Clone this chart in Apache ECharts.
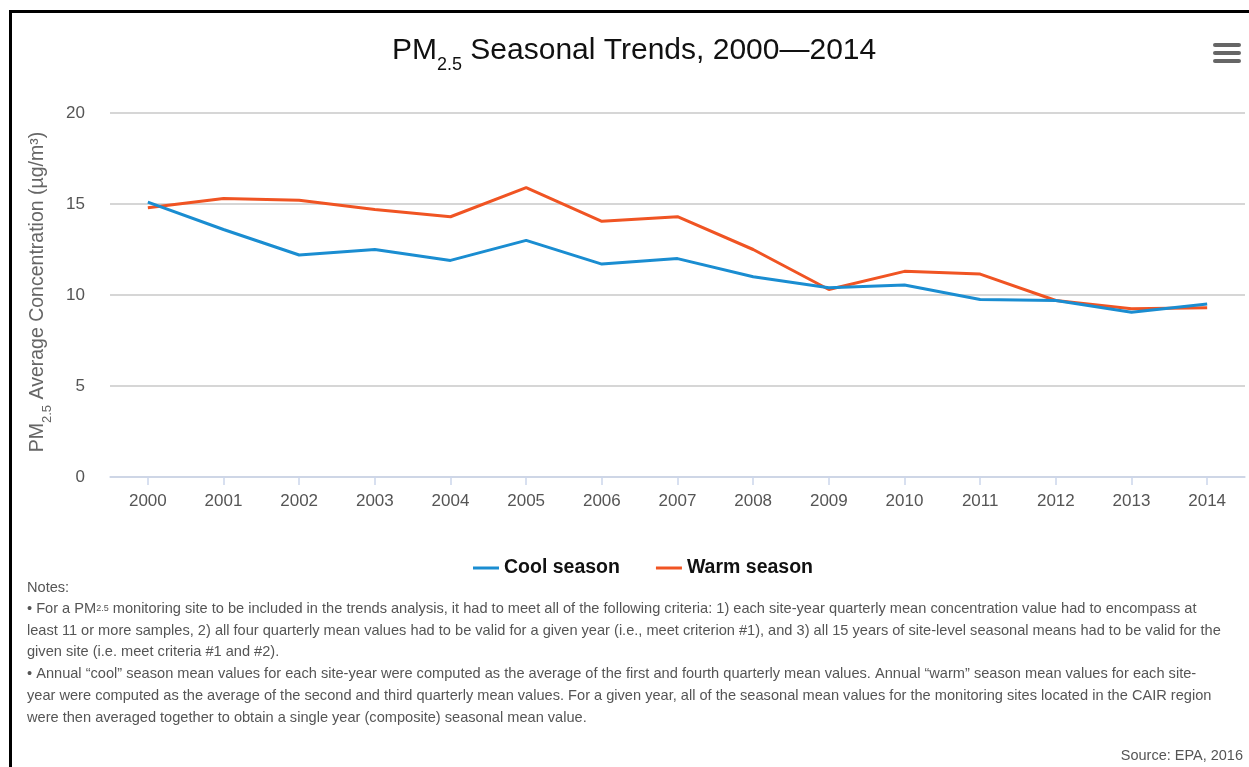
<!DOCTYPE html>
<html>
<head>
<meta charset="utf-8">
<script src="https://cdn.jsdelivr.net/npm/echarts@6/dist/echarts.min.js"></script>
<style>
html,body{margin:0;padding:0;background:#fff;}
#c{width:1249px;height:767px;}
</style>
</head>
<body>
<div id="c"></div>
<script>
var years = ['2000','2001','2002','2003','2004','2005','2006','2007','2008','2009','2010','2011','2012','2013','2014'];
var coolSeason = [15.1, 13.6, 12.2, 12.5, 11.9, 13.0, 11.7, 12.0, 11.0, 10.4, 10.55, 9.75, 9.7, 9.05, 9.5];
var warmSeason = [14.8, 15.3, 15.2, 14.7, 14.3, 15.9, 14.05, 14.3, 12.5, 10.3, 11.3, 11.15, 9.7, 9.25, 9.3];
var yTicks = [0, 5, 10, 15, 20];
var seriesNames = ['Cool season', 'Warm season'];
var noteLines = [
  'Notes:',
  '{t|• For a PM}{s|2.5}{t| monitoring site to be included in the trends analysis, it had to meet all of the following criteria: 1) each site-year quarterly mean concentration value had to encompass at}',
  'least 11 or more samples, 2) all four quarterly mean values had to be valid for a given year (i.e., meet criterion #1), and 3) all 15 years of site-level seasonal means had to be valid for the',
  'given site (i.e. meet criteria #1 and #2).',
  '• Annual \u201ccool\u201d season mean values for each site-year were computed as the average of the first and fourth quarterly mean values. Annual \u201cwarm\u201d season mean values for each site-',
  'year were computed as the average of the second and third quarterly mean values. For a given year, all of the seasonal mean values for the monitoring sites located in the CAIR region',
  'were then averaged together to obtain a single year (composite) seasonal mean value.'
];
var sourceText = 'Source: EPA, 2016';

var FONT = '"Liberation Sans", Arial, Helvetica, sans-serif';
var chart = echarts.init(document.getElementById('c'), null, {renderer: 'canvas'});

var noteY = [588, 609, 631, 652, 674, 696, 718];
var NOTE_FS = 14.6;
var graphics = [];
// frame
graphics.push({type:'rect', shape:{x:9, y:10, width:1240, height:3}, style:{fill:'#000'}, silent:true});
graphics.push({type:'rect', shape:{x:9, y:10, width:3, height:757}, style:{fill:'#000'}, silent:true});
// menu icon
[43, 51, 59].forEach(function(y){
  graphics.push({type:'rect', shape:{x:1213, y:y, width:28, height:4, r:2}, style:{fill:'#666'}, silent:true});
});
noteLines.forEach(function(line, i){
  graphics.push({
    type:'text', x:27, y:noteY[i],
    style:{
      text: line,
      fontFamily: FONT, fontSize: NOTE_FS, fill:'#555',
      align:'left', verticalAlign:'middle', textAlign:'left', textVerticalAlign:'middle',
      rich: {
        t: {fontFamily: FONT, fontSize: NOTE_FS, fill:'#555', color:'#555'},
        s: {fontFamily: FONT, fontSize: 9, fill:'#555', color:'#555'}
      }
    },
    silent:true
  });
});
graphics.push({
  type:'text', x:1243, y:756,
  style:{text: sourceText, fontFamily: FONT, fontSize: 14.5, fill:'#555',
    align:'right', verticalAlign:'middle', textAlign:'right', textVerticalAlign:'middle'},
  silent:true
});

var option = {
  animation: false,
  backgroundColor: '#fff',
  color: ['#1a8dd1', '#f05423'],
  title: {
    text: '{a|PM}{s|2.5}{a| Seasonal Trends, 2000\u20142014}',
    left: 392,
    top: 36,
    padding: 0,
    textStyle: {
      fontWeight: 'normal',
      rich: {
        a: {fontFamily: FONT, fontSize: 30, fontWeight: 'normal', color: '#111', lineHeight: 32, verticalAlign: 'top'},
        s: {fontFamily: FONT, fontSize: 18, fontWeight: 'normal', color: '#111', lineHeight: 18, padding: [20, 0, 0, 0], verticalAlign: 'top'}
      }
    }
  },
  legend: {
    data: seriesNames,
    left: 468,
    top: 553,
    icon: 'rect',
    itemWidth: 26,
    itemHeight: 3,
    itemGap: 36,
    textStyle: {fontFamily: FONT, fontSize: 19.5, fontWeight: 'bold', color: '#111'}
  },
  grid: {left: 110, right: 4, top: 113, bottom: 290},
  xAxis: {
    type: 'category',
    data: years,
    boundaryGap: true,
    axisLine: {lineStyle: {color: '#ccd6eb', width: 1.5}},
    axisTick: {show: true, alignWithLabel: true, length: 8, lineStyle: {color: '#ccd6eb', width: 1.5}},
    axisLabel: {fontFamily: FONT, fontSize: 17, color: '#555', margin: 16},
    splitLine: {show: false}
  },
  yAxis: {
    type: 'value',
    min: yTicks[0],
    max: yTicks[yTicks.length - 1],
    interval: 5,
    name: '{a|PM}{s|2.5}{a| Average Concentration (\u00b5g/m\u00b3)}',
    nameLocation: 'middle',
    nameGap: 60,
    nameRotate: 90,
    nameTextStyle: {
      padding: [0, 0, 0, 6],
      rich: {
        a: {fontFamily: FONT, fontSize: 19.5, color: '#666', lineHeight: 22, verticalAlign: 'top'},
        s: {fontFamily: FONT, fontSize: 13, color: '#666', lineHeight: 13, padding: [13, 0, 0, 0], verticalAlign: 'top'}
      }
    },
    axisLine: {show: false},
    axisTick: {show: false},
    axisLabel: {fontFamily: FONT, fontSize: 17, color: '#555', margin: 25},
    splitLine: {lineStyle: {color: '#c8c8c8', width: 1.5}}
  },
  series: [
    {name: seriesNames[0], type: 'line', data: coolSeason, showSymbol: false, symbol: 'none', lineStyle: {width: 3}, z: 3},
    {name: seriesNames[1], type: 'line', data: warmSeason, showSymbol: false, symbol: 'none', lineStyle: {width: 3}, z: 2}
  ],
  graphic: graphics
};
chart.setOption(option);
</script>
</body>
</html>
